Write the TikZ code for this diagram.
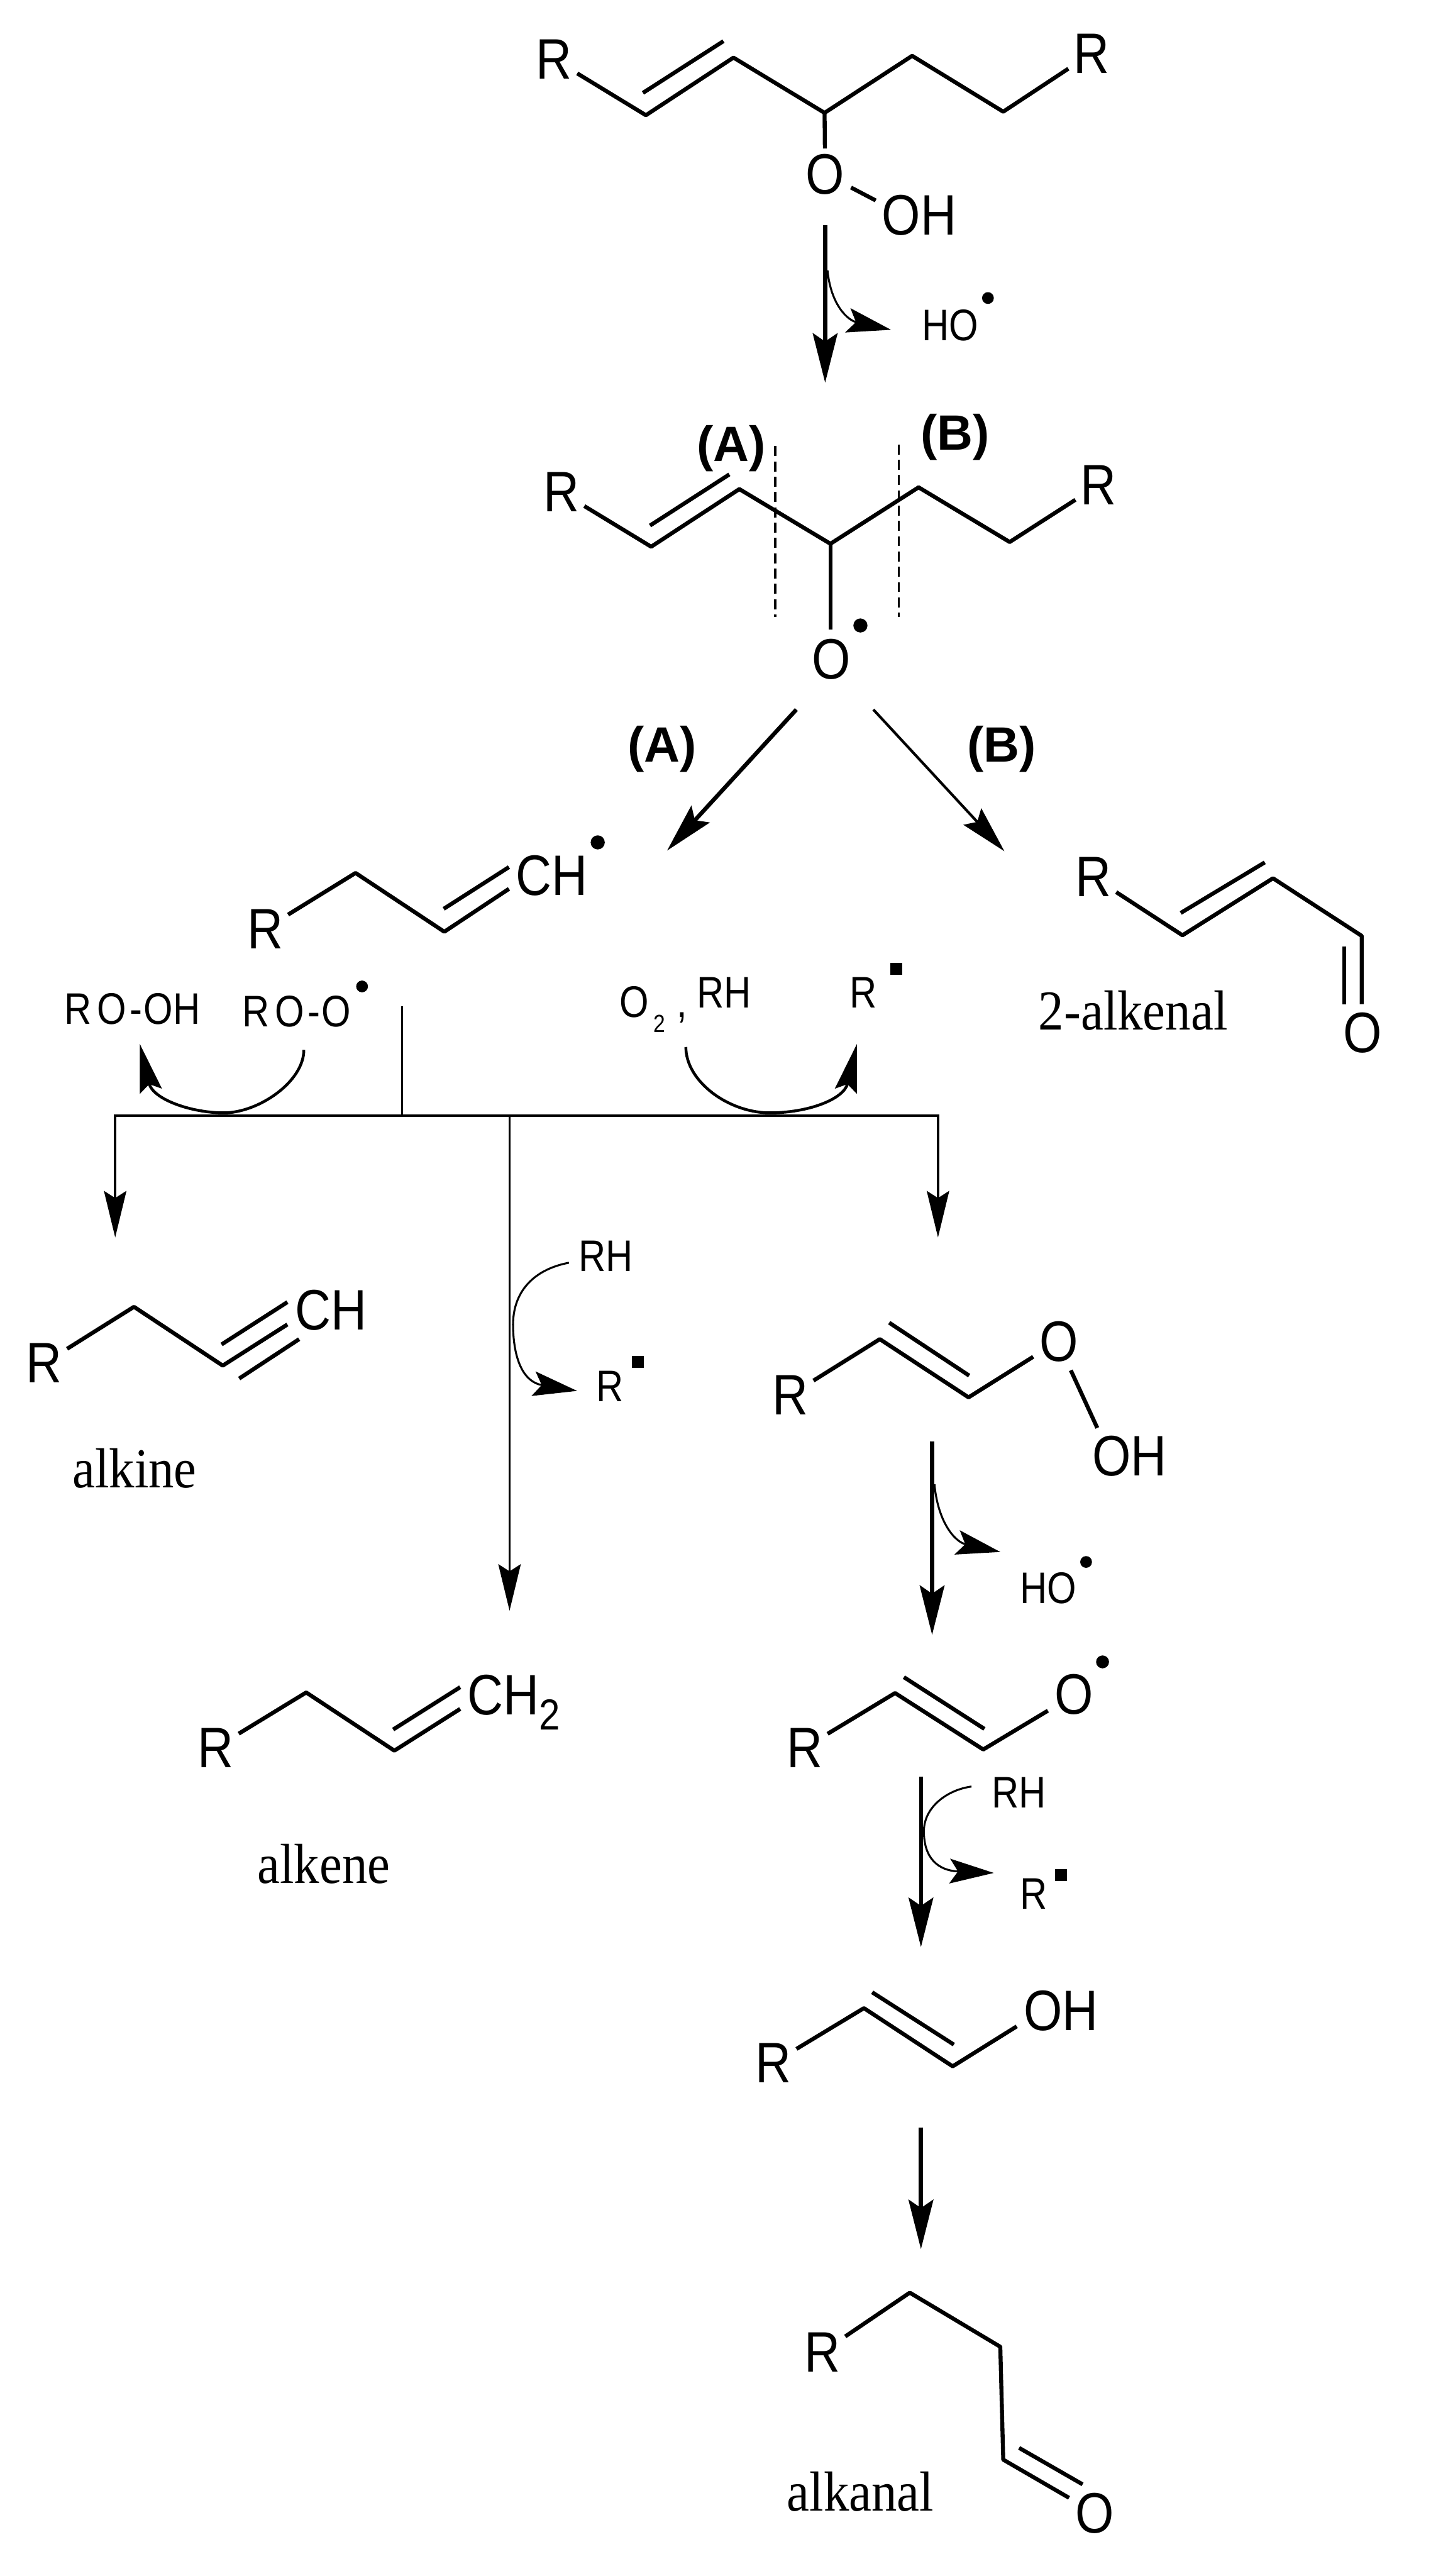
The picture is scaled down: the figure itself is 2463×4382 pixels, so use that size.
\documentclass[tikz,border=0pt]{standalone}
\usepackage{fontspec}
\setmainfont{Liberation Sans}
\newfontfamily\labserif{Liberation Serif}
\usetikzlibrary{arrows.meta}
\tikzset{
  atom/.style={inner sep=0pt,outer sep=.1cm,xscale=.87,transform shape,font=\fontsize{27.6}{30}\selectfont},
  atomsmall/.style={inner sep=0pt,outer sep=.05cm,xscale=.85,transform shape,font=\fontsize{21.4}{24}\selectfont},
  cut/.style={inner sep=0pt,font=\bfseries\fontsize{24}{28}\selectfont},
  name label/.style={inner sep=0pt,anchor=base,xscale=.9,transform shape,font=\labserif\fontsize{27.3}{30}\selectfont},
  radical/.style={circle,fill=black,inner sep=0pt,minimum size=#1},
  radical/.default=.22cm,
  sqradical/.style={rectangle,fill=black,inner sep=0pt,minimum size=.2cm},
  bond/.style={line width=.068cm,line join=round},
  cutline/.style={line width=.035cm,dash pattern=on .17cm off .09cm},
  rail/.style={line width=.045cm},
  railthin/.style={line width=.035cm},
  rxn/.style={line width=.07cm,-{Stealth[length=.84cm,width=.42cm,inset=.14cm]}},
  rxnthin/.style={line width=.045cm,-{Stealth[length=.8cm,width=.41cm,inset=.12cm]}},
  down/.style={line width=.038cm,-{Stealth[length=.79cm,width=.38cm,inset=.12cm]}},
  curl/.style={line width=.033cm,-{Stealth[length=.75cm,width=.42cm,inset=.14cm]}},
  curlwide/.style={line width=.048cm,-{Stealth[length=.82cm,width=.38cm,inset=.12cm]}},
}
\begin{document}
\begin{tikzpicture}[x=.01cm,y=-.01cm]
\useasboundingbox (0,0) rectangle (2463,4382);

% ---------- hydroperoxide
\node[atom] (aR1) at (943,101) {R};
\node[atom] (aR2) at (1857,91) {R};
\node[atom] (aO) at (1404,297) {O};
\node[atom,anchor=center] (aOH) at (1564,366) {OH};
\coordinate (a1) at (1099,196);
\coordinate (a2) at (1248,98);
\coordinate (a3) at (1403,192);
\coordinate (a4) at (1552,95);
\coordinate (a5) at (1707,190);
\coordinate (a1b) at (1094,158);
\coordinate (a2b) at (1231,70);
\coordinate (aO1) at (1448,319);
\coordinate (aO2) at (1490,341);
\draw[bond] (aR1) -- (a1) -- (a2) -- (a3) -- (a4) -- (a5) -- (aR2);
\draw[bond] (a1b) -- (a2b);
\draw[bond] (a3) -- (aO);
\draw[bond] (aO1) -- (aO2);

% ---------- first arrow
\coordinate (r1s) at (1404,383);
\coordinate (r1e) at (1404,651);
\coordinate (r1c) at (1408,460);
\coordinate (r1t) at (1516,561);
\draw[rxn] (r1s) -- (r1e);
\draw[curl] (r1c) .. controls (1414,520) and (1443,545) .. (r1t);
\node[atomsmall] (hoA) at (1617,553) {HO};
\node[radical=.2cm] (hoAd) at (1681,507) {};

% ---------- alkoxyl radical
\node[cut] (cA) at (1244,763) {(A)};
\node[cut] (cB) at (1625,744) {(B)};
\node[atom] (bR1) at (955,837) {R};
\node[atom] (bR2) at (1869,825) {R};
\node[atom] (bO) at (1415,1121) {O};
\node[radical=.24cm] (bOd) at (1464,1064) {};
\coordinate (b1) at (1108,930);
\coordinate (b2) at (1258,832);
\coordinate (b3) at (1413,925);
\coordinate (b4) at (1563,829);
\coordinate (b5) at (1718,922);
\coordinate (b1b) at (1106,894);
\coordinate (b2b) at (1241,807);
\coordinate (b3o) at (1413,1071);
\draw[bond] (bR1) -- (b1) -- (b2) -- (b3) -- (b4) -- (b5) -- (bR2);
\draw[bond] (b1b) -- (b2b);
\draw[bond] (b3) -- (b3o);
\coordinate (d1a) at (1319,759);
\coordinate (d1b) at (1319,1049);
\coordinate (d2a) at (1529,756);
\coordinate (d2b) at (1529,1049);
\draw[cutline] (d1a) -- (d1b);
\draw[cutline] (d2a) -- (d2b);

% ---------- branches A and B
\node[cut] (lA) at (1127,1274) {(A)};
\node[cut] (lB) at (1704,1274) {(B)};
\coordinate (rAs) at (1355,1207);
\coordinate (rAe) at (1135,1447);
\coordinate (rBs) at (1486,1207);
\coordinate (rBe) at (1709,1448);
\draw[rxn] (rAs) -- (rAe);
\draw[rxnthin] (rBs) -- (rBe);

% ---------- vinyl radical
\node[atom] (cR) at (451,1580) {R};
\node[atom] (cCH) at (939,1489) {CH};
\node[radical=.24cm] (cCHd) at (1017,1433) {};
\coordinate (c1) at (605,1485);
\coordinate (c2) at (756,1585);
\coordinate (c3) at (866,1512);
\coordinate (c2b) at (755,1546);
\coordinate (c3b) at (866,1475);
\draw[bond] (cR) -- (c1) -- (c2) -- (c3);
\draw[bond] (c2b) -- (c3b);

% ---------- 2-alkenal
\node[atom] (eR) at (1860,1492) {R};
\node[atom] (eO) at (2318,1757) {O};
\coordinate (e1) at (2012,1591);
\coordinate (e2) at (2166,1494);
\coordinate (e3) at (2317,1592);
\coordinate (e4) at (2317,1708);
\coordinate (e1b) at (2009,1553);
\coordinate (e2b) at (2152,1467);
\coordinate (e3b) at (2287,1610);
\coordinate (e4b) at (2287,1708);
\draw[bond] (eR) -- (e1) -- (e2) -- (e3) -- (e4);
\draw[bond] (e1b) -- (e2b);
\draw[bond] (e3b) -- (e4b);
\node[name label] (eName) at (1928,1752) {2-alkenal};

% ---------- radical reagents
\node[atomsmall,anchor=center] (s1) at (225,1716) {R\kern .11cm O\kern .07cm-\kern .03cm OH};
\node[atomsmall,anchor=center] (s2) at (505,1721) {R\kern .11cm O\kern .07cm-\kern .03cm O};
\node[radical=.2cm] (s2d) at (616,1678) {};
\node[atomsmall,anchor=base west] (s3) at (1050,1730) {O\kern .1cm\raisebox{-.26cm}{\fontsize{12}{13}\selectfont 2}\kern .22cm,};
\node[atomsmall] (s4) at (1232,1689) {RH};
\node[atomsmall] (s5) at (1469,1689) {R};
\node[sqradical] (s5d) at (1525,1648) {};

% ---------- rail
\coordinate (rl) at (194,1898);
\coordinate (rr) at (1598,1898);
\coordinate (rt) at (684,1712);
\coordinate (rb) at (684,1898);
\draw[rail] (rl) -- (rr);
\draw[railthin] (rt) -- (rb);
\coordinate (u1) at (196,1898);
\coordinate (u1e) at (196,2105);
\coordinate (u2) at (867,1898);
\coordinate (u2e) at (867,2740);
\coordinate (u3) at (1596,1898);
\coordinate (u3e) at (1596,2105);
\draw[down] (u1) -- (u1e);
\draw[down] (u2) -- (u2e);
\draw[down] (u3) -- (u3e);

% U-shaped curls
\coordinate (ul1) at (517,1786);
\coordinate (ul2) at (381,1893);
\coordinate (ul3) at (238,1776);
\coordinate (ur1) at (1167,1781);
\coordinate (ur2) at (1310,1893);
\coordinate (ur3) at (1458,1776);
\draw[curlwide] (ul1) .. controls (517,1840) and (440,1893) .. (ul2) .. controls (325,1893) and (260,1870) .. (ul3);
\draw[curlwide] (ur1) .. controls (1167,1840) and (1240,1893) .. (ur2) .. controls (1375,1893) and (1436,1870) .. (ur3);

% ---------- alkyne
\node[atom] (fR) at (75,2319) {R};
\node[atom] (fCH) at (563,2229) {CH};
\coordinate (f1) at (228,2223);
\coordinate (f2) at (379,2323);
\coordinate (f3) at (489,2253);
\coordinate (f2b) at (377,2287);
\coordinate (f3b) at (489,2215);
\coordinate (f2c) at (407,2345);
\coordinate (f3c) at (509,2278);
\draw[bond] (fR) -- (f1) -- (f2) -- (f3);
\draw[bond] (f2b) -- (f3b);
\draw[bond] (f2c) -- (f3c);
\node[name label] (fName) at (229,2531) {alkine};

% ---------- RH curl on the alkene branch
\node[atomsmall] (g1) at (1031,2137) {RH};
\node[atomsmall] (g2) at (1038,2358) {R};
\node[sqradical] (g2d) at (1085,2317) {};
\coordinate (gc1) at (968,2148);
\coordinate (gc2) at (873,2253);
\coordinate (gc3) at (982,2366);
\draw[curl] (gc1) .. controls (905,2160) and (873,2200) .. (gc2) .. controls (873,2300) and (885,2350) .. (gc3);

% ---------- alkene
\node[atom] (hR) at (367,2973) {R};
\coordinate (h1) at (521,2879);
\coordinate (h2) at (671,2978);
\coordinate (h3) at (783,2907);
\coordinate (h2b) at (669,2942);
\coordinate (h3b) at (783,2870);
\draw[bond] (hR) -- (h1) -- (h2) -- (h3);
\draw[bond] (h2b) -- (h3b);
\node[atom,anchor=base west,outer sep=0pt] (hCH) at (795,2917) {CH\raisebox{-.26cm}{\fontsize{21}{24}\selectfont 2}};
\node[name label] (hName) at (551,3204) {alkene};

% ---------- vinyl hydroperoxide
\node[atom] (iR) at (1345,2373) {R};
\node[atom] (iO) at (1802,2282) {O};
\node[atom] (iOH) at (1922,2477) {OH};
\coordinate (i1) at (1497,2278);
\coordinate (i2) at (1648,2377);
\coordinate (i3) at (1758,2308);
\coordinate (i1b) at (1513,2250);
\coordinate (i2b) at (1649,2340);
\coordinate (i4) at (1822,2331);
\coordinate (i5) at (1867,2429);
\draw[bond] (iR) -- (i1) -- (i2) -- (i3);
\draw[bond] (i1b) -- (i2b);
\draw[bond] (i4) -- (i5);

\coordinate (r3s) at (1586,2452);
\coordinate (r3e) at (1586,2781);
\coordinate (r3c) at (1590,2525);
\coordinate (r3t) at (1702,2640);
\draw[rxn] (r3s) -- (r3e);
\draw[curl] (r3c) .. controls (1596,2590) and (1625,2623) .. (r3t);
\node[atomsmall] (hoB) at (1784,2702) {HO};
\node[radical=.2cm] (hoBd) at (1848,2657) {};

% ---------- vinyloxyl radical
\node[atom] (jR) at (1369,2973) {R};
\node[atom] (jO) at (1827,2882) {O};
\node[radical=.22cm] (jOd) at (1876,2827) {};
\coordinate (j1) at (1523,2880);
\coordinate (j2) at (1673,2976);
\coordinate (j3) at (1783,2910);
\coordinate (j1b) at (1538,2853);
\coordinate (j2b) at (1675,2941);
\draw[bond] (jR) -- (j1) -- (j2) -- (j3);
\draw[bond] (j1b) -- (j2b);

\coordinate (r4s) at (1567,3022);
\coordinate (r4e) at (1567,3312);
\coordinate (r4c) at (1653,3039);
\coordinate (r4m) at (1572,3115);
\coordinate (r4t) at (1691,3186);
\draw[rxn,line width=.06cm] (r4s) -- (r4e);
\draw[curl] (r4c) .. controls (1610,3045) and (1572,3075) .. (r4m) .. controls (1572,3160) and (1595,3182) .. (r4t);
\node[atomsmall] (k1) at (1734,3049) {RH};
\node[atomsmall] (k2) at (1759,3221) {R};
\node[sqradical] (k2d) at (1805,3190) {};

% ---------- enol
\node[atom] (lR) at (1316,3509) {R};
\node[atom] (lOH) at (1805,3420) {OH};
\coordinate (l1) at (1470,3416);
\coordinate (l2) at (1621,3515);
\coordinate (l3) at (1730,3447);
\coordinate (l1b) at (1484,3389);
\coordinate (l2b) at (1623,3478);
\draw[bond] (lR) -- (l1) -- (l2) -- (l3);
\draw[bond] (l1b) -- (l2b);

\coordinate (r5s) at (1567,3619);
\coordinate (r5e) at (1567,3826);
\draw[rxn] (r5s) -- (r5e);

% ---------- alkanal
\node[atom] (mR) at (1399,4001) {R};
\node[atom] (mO) at (1863,4275) {O};
\coordinate (m1) at (1548,3900);
\coordinate (m2) at (1702,3992);
\coordinate (m3) at (1707,4184);
\coordinate (m4) at (1819,4249);
\coordinate (m3b) at (1734,4164);
\coordinate (m4b) at (1842,4226);
\draw[bond] (mR) -- (m1) -- (m2) -- (m3) -- (m4);
\draw[bond] (m3b) -- (m4b);
\node[name label] (mName) at (1464,4271) {alkanal};
\end{tikzpicture}
\end{document}
